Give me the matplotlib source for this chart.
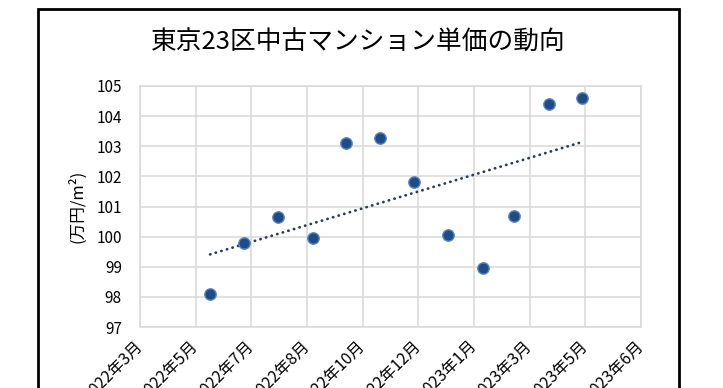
import matplotlib
matplotlib.use("Agg")
import matplotlib.pyplot as plt
import matplotlib.dates as mdates
import matplotlib.patches as mpatches
import matplotlib.transforms as mtransforms
import numpy as np
import datetime as dt

plt.rcParams['font.family'] = ['Noto Sans CJK JP', 'DejaVu Sans']

# ---- data ----
months = ["2022-06-01", "2022-07-01", "2022-08-01", "2022-09-01", "2022-10-01", "2022-11-01",
          "2022-12-01", "2023-01-01", "2023-02-01", "2023-03-01", "2023-04-01", "2023-05-01"]
prices = [98.1, 99.8, 100.65, 99.97, 103.1, 103.28, 101.8, 100.05, 98.95, 100.68, 104.4, 104.6]
tick_labels = ["2022年3月", "2022年5月", "2022年7月", "2022年8月", "2022年10月", "2022年12月",
               "2023年1月", "2023年3月", "2023年5月", "2023年6月"]
axis_start = "2022-03-30"
major_unit_days = 50
title = "東京23区中古マンション単価の動向"
ylabel = "(万円/m²)"

W, H = 723, 388
fig = plt.figure(figsize=(W / 100, H / 100), dpi=100)
ax = fig.add_axes([140 / W, 1 - 327 / H, (641 - 140) / W, (327 - 86) / H])

x = mdates.date2num([dt.datetime.fromisoformat(m) for m in months])
y = np.array(prices)

start = mdates.date2num(dt.datetime.fromisoformat(axis_start))
ticks = start + major_unit_days * np.arange(len(tick_labels))

# trend line
coef = np.polyfit(x, y, 1)
xt = np.array([x[0], x[-1]])
ax.plot(xt, np.polyval(coef, xt), color='#2e3d52', lw=2.0, linestyle=(0, (0.1, 2.0)),
        dash_capstyle='round', zorder=3)

ax.plot(x, y, linestyle='none', marker='o', markersize=8.2, markerfacecolor='#1d4c88',
        markeredgecolor='#5a86bb', markeredgewidth=1.0, zorder=4)

ax.set_xlim(ticks[0], ticks[-1])
ax.set_ylim(97, 105)
ax.set_yticks(np.arange(97, 106, 1))
ax.set_xticks(ticks)
ax.set_xticklabels(tick_labels, rotation=45, ha='right', va='center', rotation_mode='anchor',
                   fontsize=11.5)
ax.grid(True, color='#d9d9d9', lw=1.1)
ax.set_axisbelow(True)
for s in ax.spines.values():
    s.set_color('#d9d9d9')
    s.set_linewidth(1.1)
ax.tick_params(axis='both', length=0, colors='#000000')
ax.tick_params(axis='y', pad=13, labelsize=11)
ax.tick_params(axis='x', pad=12)
offset = mtransforms.ScaledTranslation(0 / 100, 0, fig.dpi_scale_trans)
for lab in ax.get_xticklabels():
    lab.set_transform(lab.get_transform() + offset)

fig.text(358 / W, 1 - 43 / H, title, ha='center', va='center', fontsize=18.5)
fig.text(77 / W, 1 - 206 / H, ylabel, ha='center', va='center', rotation=90, fontsize=12)

rect = mpatches.Rectangle((38 / W, -0.2), (679 - 38) / W, 1.2 - 9 / H + 0.0,
                          transform=fig.transFigure, fill=False, edgecolor='black', lw=2.0)
fig.patches.append(rect)

fig.savefig("out.png", dpi=100)
